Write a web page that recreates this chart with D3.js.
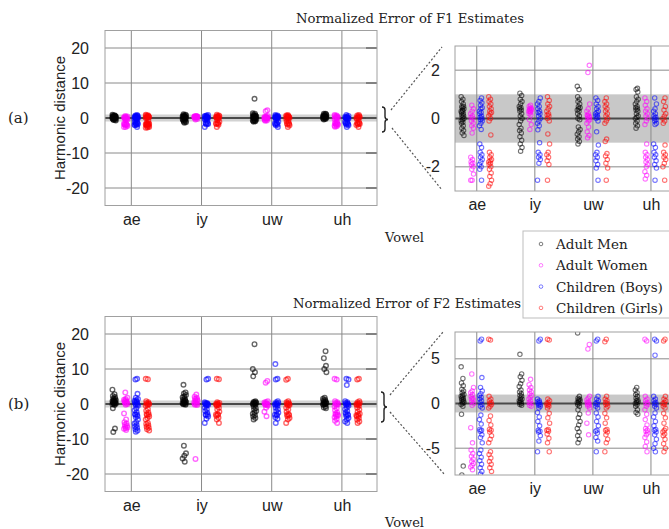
<!DOCTYPE html>
<html><head><meta charset="utf-8">
<script src="https://cdn.jsdelivr.net/npm/d3@7"></script>
<style>body{margin:0;background:#fff}svg{display:block}</style>
</head><body><svg id="c" width="669" height="529"></svg>
<script>
const vowels = ["ae","iy","uw","uh"];
const groups = ["Adult Men","Adult Women","Children (Boys)","Children (Girls)"];
const groupColors = ["#000000","#ff00ff","#0000ff","#ff0000"];
const groupOffsets = [-0.245,-0.08,0.07,0.23];

const titles = ["Normalized Error of F1 Estimates","Normalized Error of F2 Estimates"];
const panelTags = ["(a)","(b)"];
const fullTicks = [-20,-10,0,10,20];
const f1ZoomTicks = [-2,0,2];
const f2ZoomTicks = [-5,0,5];

// F1 harmonic-distance errors, per group, per vowel (ae, iy, uw, uh)
const f1Men = [
  [0.9,0.8,0.7,0.6,0.5,0.5,0.45,0.4,0.35,0.3,0.3,0.25,0.2,0.15,0.1,0.05,0,-0.05,-0.1,-0.15,-0.2,-0.3,-0.4,-0.5,-0.6,-0.7],
  [1.05,0.95,0.8,0.7,0.6,0.5,0.45,0.4,0.35,0.3,0.2,0.1,0,-0.1,-0.25,-0.4,-0.5,-0.6,-0.75,-0.9,-1.05,-1.2,-1.35],
  [5.5,1.33,1.2,0.9,0.8,0.7,0.6,0.5,0.45,0.4,0.35,0.3,0.2,0.1,0,-0.05,-0.35,-0.45,-0.55,-0.65,-0.75,-0.85,-0.95,-1.05],
  [1.25,1.2,1.1,0.9,0.8,0.7,0.6,0.5,0.45,0.4,0.35,0.3,0.2,0.1,0.05,0,-0.1,-0.2,-0.3,-0.4]
];
const f1Women = [
  [0.55,0.4,0.3,0.2,0.1,0.05,0,-0.1,-0.2,-0.3,-0.4,-0.6,-1.6,-1.7,-1.8,-1.85,-1.9,-2.0,-2.1,-2.3,-2.55,-2.55],
  [0.55,0.5,0.45,0.4,0.4,0.35,0.35,0.3,0.3,0.25,0.2,0.15,-0.05,-0.25,-0.45],
  [2.2,1.9,0.6,0.4,0.3,0.2,0.15,0.1,0.1,0.05,0,-0.05,-0.1,-0.2,-0.35,-0.55,-0.7,-0.8],
  [0.85,0.7,0.55,0.4,0.3,0.2,0.1,0,-0.1,-0.25,-1.05,-1.4,-1.5,-1.6,-1.7,-1.8,-1.9,-2.0,-2.2,-2.35,-2.5]
];
const f1Boys = [
  [0.85,0.75,0.65,0.55,0.45,0.4,0.3,0.25,0.2,0.1,0.05,0,-0.05,-0.1,-0.2,-0.3,-0.45,-1.05,-1.2,-1.4,-1.5,-1.6,-1.7,-1.8,-1.9,-2.0,-2.1,-2.55],
  [0.85,0.7,0.6,0.5,0.4,0.3,0.25,0.2,0.1,0,-0.1,-0.2,-0.3,-0.47,-1.0,-1.4,-1.5,-1.6,-1.7,-1.85,-2.55],
  [0.85,0.75,0.6,0.5,0.4,0.3,0.25,0.2,0.15,0.1,0.05,0,-0.1,-0.55,-1.1,-1.4,-1.5,-1.6,-1.75,-1.9,-2.05,-2.55],
  [0.85,0.6,0.4,0.3,0.2,0.1,0.05,0,-0.05,-0.1,-0.2,-0.25,-1.05,-1.2,-1.4,-1.5,-1.6,-1.75,-1.9,-2.05,-2.55]
];
const f1Girls = [
  [0.9,0.8,0.7,0.6,0.5,0.4,0.3,0.25,0.2,0.1,0,-0.1,-0.68,-1.4,-1.5,-1.6,-1.7,-1.75,-1.8,-1.85,-1.9,-2.0,-2.1,-2.25,-2.4,-2.55,-2.7,-2.8],
  [0.9,0.75,0.6,0.5,0.4,0.3,0.2,0.15,0.1,0,-0.1,-0.64,-1.05,-1.4,-1.5,-1.6,-1.75,-1.9,-2.55],
  [0.85,0.7,0.6,0.5,0.4,0.3,0.2,0.1,0,-0.1,-0.2,-0.85,-0.95,-1.45,-1.55,-1.7,-1.85,-2.05,-2.55],
  [0.85,0.7,0.5,0.35,0.2,0.1,0,-0.1,-0.2,-1.1,-1.4,-1.5,-1.6,-1.7,-1.85,-2.0,-2.55]
];

// F2 harmonic-distance errors
const f2Men = [
  [4.1,2.8,2.3,2.0,1.6,1.4,1.2,1.0,0.9,0.8,0.7,0.6,0.5,0.4,0.3,0.2,0.1,0,-0.1,-0.3,-1.2,-7.0,-8.0],
  [5.5,3.3,3.0,2.6,2.2,1.9,1.5,1.3,1.1,0.9,0.8,0.6,0.5,0.4,0.3,0.2,0.1,0,-0.1,-0.2,-11.9,-14.1,-14.8,-15.6,-16.5],
  [17.1,10.0,9.1,7.9,0.8,0.6,0.5,0.4,0.3,0.2,0.1,0,-0.1,-0.3,-0.7,-1.2,-1.6,-2.0,-2.4,-2.8,-3.2,-3.6,-4.0,-4.4],
  [15.1,13.1,10.9,10.0,9.1,1.8,1.5,1.2,1.0,0.8,0.6,0.4,0.3,0.2,0.1,0,-0.1,-0.3,-0.7,-1.0,-1.2]
];
const f2Women = [
  [3.3,1.8,1.4,1.2,1.0,0.8,0.6,0.5,0.4,0.2,0,-0.2,-2.7,-4.4,-5.2,-5.6,-5.9,-6.2,-6.5,-6.7,-6.9,-7.1,-7.4],
  [2.7,2.1,1.8,1.5,1.3,1.1,0.9,0.7,0.5,0.3,0.1,0,-0.2,-0.3,-15.7],
  [6.6,6.1,0.8,0.6,0.4,0.2,0.1,0,-0.1,-0.2,-0.3,-0.5,-1.05,-2.2,-3.5],
  [7.2,7.0,0.8,0.5,0.3,0.1,0,-0.1,-0.3,-0.7,-1.2,-1.8,-2.4,-2.8,-3.0,-3.1,-3.3,-3.5,-3.8,-4.3,-4.8,-5.4]
];
const f2Boys = [
  [7.2,7.0,2.9,1.8,1.4,1.1,0.9,0.7,0.5,0.3,0.1,-0.1,-0.3,-0.5,-1.3,-1.8,-2.3,-2.9,-3.0,-3.1,-3.5,-3.8,-4.4,-5.2,-5.6,-6.0,-6.4,-6.8,-7.2,-7.6,-7.9],
  [7.2,7.0,0.5,0.3,0.2,0.1,0,-0.1,-0.2,-0.3,-0.5,-1.0,-1.5,-2.0,-2.5,-3.0,-3.1,-3.2,-3.6,-4.2,-5.4],
  [11.4,7.2,7.0,0.8,0.5,0.3,0.1,0,-0.1,-0.3,-0.5,-1.05,-1.5,-2.0,-2.5,-3.0,-3.1,-3.3,-3.8,-4.2,-5.4],
  [7.2,7.0,5.4,0.8,0.5,0.3,0.1,0,-0.1,-0.3,-0.5,-1.05,-1.5,-2.0,-2.5,-2.9,-3.0,-3.2,-3.5,-4.0,-4.5,-5.0,-5.4]
];
const f2Girls = [
  [7.2,7.1,0.8,0.5,0.3,0.1,0,-0.1,-0.3,-0.5,-1.4,-1.9,-2.4,-2.9,-3.0,-3.2,-3.6,-4.0,-4.4,-5.4,-5.7,-6.1,-6.5,-6.8,-7.2,-7.6],
  [7.2,7.1,0.5,0.3,0.1,0,-0.1,-0.2,-0.3,-0.5,-1.1,-1.6,-2.2,-2.9,-3.0,-3.1,-3.4,-3.9,-4.4,-5.4],
  [7.2,6.9,0.8,0.5,0.3,0.1,0,-0.1,-0.3,-0.5,-1.1,-1.6,-2.2,-2.9,-3.0,-3.2,-3.5,-4.0,-4.4,-5.4],
  [7.2,7.0,0.8,0.5,0.3,0.1,0,-0.1,-0.3,-0.5,-1.1,-1.6,-2.2,-2.8,-3.0,-3.2,-3.4,-3.6,-4.0,-4.5,-5.0,-5.4]
];

const f1Data = [f1Men, f1Women, f1Boys, f1Girls];
const f2Data = [f2Men, f2Women, f2Boys, f2Girls];

const svg = d3.select("#c");
const SANS = "'Liberation Sans', Arial, sans-serif";
const SERIF = "'DejaVu Serif', serif";

// deterministic horizontal spread (strip-chart jitter), in category units
function jitter(k, gi, vi) {
  const h = ((k * 5 + gi * 3 + vi * 2) % 9) - 4;
  return h / 4 * 0.024;
}

let clipN = 0;
function panel(cfg) {
  const x = d3.scaleLinear().domain([0.625, 4.5]).range([cfg.left, cfg.right]);
  const y = d3.scaleLinear().domain(cfg.yDomain).range([cfg.bottom, cfg.top]);
  const visRight = Math.min(cfg.right, 669);
  const id = "clip" + (clipN++);
  svg.append("clipPath").attr("id", id).append("rect")
    .attr("x", cfg.left).attr("y", cfg.top)
    .attr("width", visRight - cfg.left).attr("height", cfg.bottom - cfg.top);
  const g = svg.append("g");
  const inner = g.append("g").attr("clip-path", `url(#${id})`);

  inner.append("rect").attr("x", cfg.left).attr("width", visRight - cfg.left)
    .attr("y", y(1)).attr("height", y(-1) - y(1)).attr("fill", cfg.band);

  inner.selectAll("line.h").data(cfg.yTicks.filter(t => t !== 0)).join("line")
    .attr("x1", cfg.left).attr("x2", visRight)
    .attr("y1", d => y(d)).attr("y2", d => y(d))
    .attr("stroke", "#8a8a8a").attr("stroke-width", 1);
  inner.selectAll("line.v").data([1,2,3,4]).join("line")
    .attr("x1", d => x(d)).attr("x2", d => x(d))
    .attr("y1", cfg.top).attr("y2", cfg.bottom)
    .attr("stroke", "#8a8a8a").attr("stroke-width", 1);
  inner.append("line").attr("x1", cfg.left).attr("x2", visRight)
    .attr("y1", y(0)).attr("y2", y(0)).attr("stroke", "#4a4a4a").attr("stroke-width", 2);

  if (cfg.rightTicks) {
    g.selectAll("line.rt").data(cfg.yTicks).join("line")
      .attr("x1", cfg.right - 11).attr("x2", cfg.right)
      .attr("y1", d => y(d)).attr("y2", d => y(d))
      .attr("stroke", "#555").attr("stroke-width", 1.2);
  }

  cfg.data.forEach((grp, gi) => {
    grp.forEach((vals, vi) => {
      inner.append("g").selectAll("circle").data(vals).join("circle")
        .attr("cx", (d, k) => x(vi + 1 + groupOffsets[gi] + jitter(k, gi, vi)))
        .attr("cy", d => y(d))
        .attr("r", cfg.r)
        .attr("fill", "none")
        .attr("stroke", groupColors[gi])
        .attr("stroke-opacity", cfg.op)
        .attr("stroke-width", cfg.sw);
    });
  });

  g.append("rect").attr("x", cfg.left).attr("y", cfg.top)
    .attr("width", cfg.right - cfg.left).attr("height", cfg.bottom - cfg.top)
    .attr("fill", "none").attr("stroke", "#a0a0a0").attr("stroke-width", 1);

  const ya = g.append("g").attr("transform", `translate(${cfg.left},0)`)
    .call(d3.axisLeft(y).tickValues(cfg.yTicks).tickSize(0).tickPadding(cfg.yPad).tickFormat(d => String(d)));
  ya.select(".domain").remove();
  ya.selectAll("text").attr("font-family", SANS).attr("font-size", 16).attr("fill", "#222");

  const xa = g.append("g").attr("transform", `translate(0,${cfg.bottom})`)
    .call(d3.axisBottom(x).tickValues([1,2,3,4]).tickSize(0).tickPadding(8).tickFormat(d => vowels[d - 1]));
  xa.select(".domain").remove();
  xa.selectAll("text").attr("font-family", SANS).attr("font-size", 16).attr("fill", "#222");
}

panel({left:105, right:377, top:30.5, bottom:205.5, yDomain:[-25,25], yTicks:fullTicks,
       data:f1Data, band:"#d2d2d2", yPad:16, rightTicks:true, r:2.3, sw:1.4, op:0.6});
panel({left:455, right:680, top:46, bottom:191, yDomain:[-3,3], yTicks:f1ZoomTicks,
       data:f1Data, band:"#c8c8c8", yPad:15, rightTicks:false, r:2.2, sw:1.1, op:0.55});
panel({left:105, right:377, top:316.5, bottom:491.5, yDomain:[-25,25], yTicks:fullTicks,
       data:f2Data, band:"#d2d2d2", yPad:16, rightTicks:true, r:2.3, sw:1.4, op:0.6});
panel({left:455, right:680, top:332, bottom:475, yDomain:[-8,8], yTicks:f2ZoomTicks,
       data:f2Data, band:"#c8c8c8", yPad:15, rightTicks:false, r:2.2, sw:1.1, op:0.55});

[[296, 23], [293, 308]].forEach((p, i) => {
  svg.append("text").attr("x", p[0]).attr("y", p[1]).text(titles[i])
    .attr("font-family", SERIF).attr("font-size", 13.5).attr("fill", "#222")
    .attr("textLength", 228).attr("lengthAdjust", "spacingAndGlyphs");
});
[[8, 123], [8, 409]].forEach((p, i) => {
  svg.append("text").attr("x", p[0]).attr("y", p[1]).text(panelTags[i])
    .attr("font-family", SERIF).attr("font-size", 15).attr("fill", "#222");
});
[118, 404].forEach(cy => {
  svg.append("text").attr("transform", `translate(65,${cy}) rotate(-90)`)
    .attr("text-anchor", "middle").text("Harmonic distance")
    .attr("font-family", SANS).attr("font-size", 15).attr("fill", "#222");
});
[242, 527].forEach(by => {
  svg.append("text").attr("x", 385).attr("y", by).text("Vowel")
    .attr("font-family", SERIF).attr("font-size", 13).attr("fill", "#222");
});

function brace(x0, top, bottom) {
  const mid = (top + bottom) / 2, xm = x0 + 3, xt = x0 + 6;
  const p = `M${x0},${top} Q${xm},${top} ${xm},${top+3} L${xm},${mid-3} Q${xm},${mid} ${xt},${mid} Q${xm},${mid} ${xm},${mid+3} L${xm},${bottom-3} Q${xm},${bottom} ${x0},${bottom}`;
  svg.append("path").attr("d", p).attr("fill", "none").attr("stroke", "#222").attr("stroke-width", 1.4);
}
brace(382, 107, 132);
brace(381, 392, 422);
[[391,110,442,47],[392,128,442,190],[390,395,443,332],[390,412,445,475]].forEach(l => {
  svg.append("line").attr("x1", l[0]).attr("y1", l[1]).attr("x2", l[2]).attr("y2", l[3])
    .attr("stroke", "#555").attr("stroke-width", 1.2).attr("stroke-dasharray", "2,2");
});

const lg = svg.append("g");
lg.append("rect").attr("x", 523).attr("y", 231).attr("width", 160).attr("height", 87)
  .attr("fill", "#fff").attr("stroke", "#bdbdbd").attr("stroke-width", 1);
groups.forEach((name, i) => {
  const cy = 244 + i * 21.3;
  lg.append("circle").attr("cx", 541).attr("cy", cy).attr("r", 1.8)
    .attr("fill", "none").attr("stroke", groupColors[i]).attr("stroke-opacity", 0.5);
  lg.append("text").attr("x", 556).attr("y", cy + 5).text(name)
    .attr("font-family", SERIF).attr("font-size", 13.5).attr("fill", "#222");
});
</script>
</body></html>
